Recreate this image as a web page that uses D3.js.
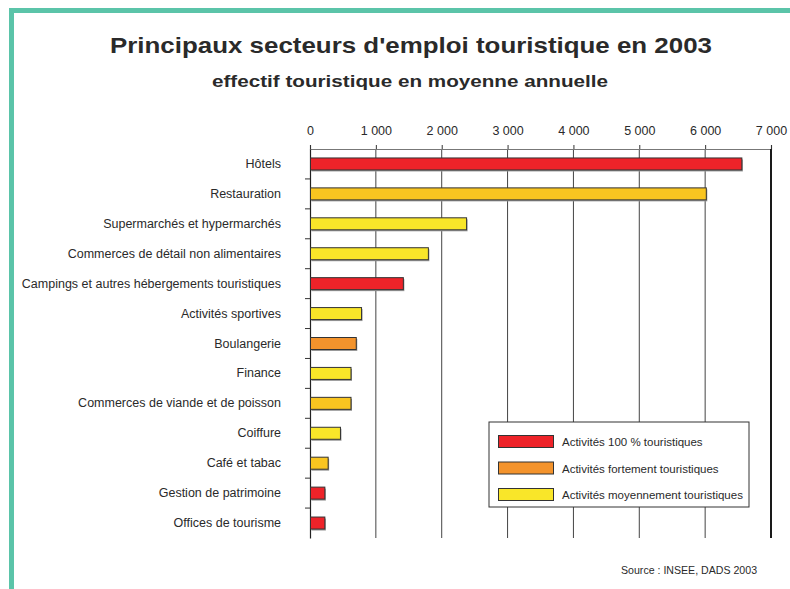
<!DOCTYPE html>
<html>
<head>
<meta charset="utf-8">
<script src="https://cdn.jsdelivr.net/npm/d3@7"></script>
<style>
  body { margin: 0; background: #fff; }
  text { font-family: "Liberation Sans", Arial, sans-serif; fill: #2a2a2a; }
</style>
</head>
<body>
<div class="chart"></div>
<script>
// data
let sectors = ["Hôtels", "Restauration", "Supermarchés et hypermarchés",
  "Commerces de détail non alimentaires", "Campings et autres hébergements touristiques",
  "Activités sportives", "Boulangerie", "Finance", "Commerces de viande et de poisson",
  "Coiffure", "Café et tabac", "Gestion de patrimoine", "Offices de tourisme"];
let effectif = [6550, 6010, 2370, 1790, 1410, 775, 695, 615, 615, 455, 268, 218, 218];
let colourKey = ["red", "amber", "yellow", "yellow", "red", "yellow", "orange", "yellow",
  "amber", "yellow", "amber", "red", "red"];
let ticks = [0, 1000, 2000, 3000, 4000, 5000, 6000, 7000];
let legendLabels = ["Activités 100 % touristiques", "Activités fortement touristiques",
  "Activités moyennement touristiques"];
let legendKeys = ["red", "orange", "yellow"];

let palette = { red: "#ee2329", amber: "#f9c520", orange: "#f3932c", yellow: "#f9e629" };

let svgWidth = 790, svgHeight = 589;
let margin = { top: 149, left: 310, right: 19, bottom: 51 };
let width = svgWidth - margin.left - margin.right;
let height = svgHeight - margin.top - margin.bottom;

let svg = d3.select(".chart").append("svg")
  .attr("width", svgWidth).attr("height", svgHeight);

// teal frame on top and left
svg.append("rect").attr("x", 9).attr("y", 8).attr("width", svgWidth - 9).attr("height", 5).attr("fill", "#5bc4a9");
svg.append("rect").attr("x", 9).attr("y", 8).attr("width", 5).attr("height", svgHeight - 8).attr("fill", "#5bc4a9");

svg.append("text").attr("x", 110).attr("y", 53)
  .attr("font-size", "22px").attr("font-weight", "bold")
  .attr("textLength", 602).attr("lengthAdjust", "spacingAndGlyphs")
  .text("Principaux secteurs d'emploi touristique en 2003");
svg.append("text").attr("x", 212).attr("y", 87)
  .attr("font-size", "17px").attr("font-weight", "bold")
  .attr("textLength", 396).attr("lengthAdjust", "spacingAndGlyphs")
  .text("effectif touristique en moyenne annuelle");

let chartGroup = svg.append("g").attr("transform", `translate(${margin.left}, ${margin.top})`);

let x = d3.scaleLinear().domain([0, 7000]).range([0, width]);
let y = d3.scaleBand().domain(sectors).range([0, height]);

// vertical grid
chartGroup.selectAll(".grid").data(ticks.slice(1, -1)).enter().append("line")
  .attr("x1", d => x(d)).attr("x2", d => x(d))
  .attr("y1", 0).attr("y2", height)
  .attr("stroke", "#444").attr("stroke-width", 1);

// top axis
let topAxis = d3.axisTop(x).tickValues(ticks).tickSize(4)
  .tickFormat(d => d3.format(",")(d).replace(",", "\u00a0"));
let gTop = chartGroup.append("g").call(topAxis);
gTop.select(".domain").attr("stroke", "#777").attr("stroke-width", 1.2);
gTop.selectAll(".tick line").attr("stroke", "#333");
gTop.selectAll(".tick text").attr("font-size", "12.5px").attr("y", -14)
  .attr("font-family", "Liberation Sans, Arial, sans-serif").attr("fill", "#2a2a2a");

// right border
chartGroup.append("line").attr("x1", width).attr("x2", width).attr("y1", 0).attr("y2", height)
  .attr("stroke", "#1a1a1a").attr("stroke-width", 2);

// left axis
let leftAxis = d3.axisLeft(y).tickSize(0).tickPadding(29);
let gLeft = chartGroup.append("g").call(leftAxis);
gLeft.select(".domain").attr("stroke", "#222").attr("stroke-width", 1.2);
gLeft.selectAll(".tick text").attr("font-size", "12.5px")
  .attr("font-family", "Liberation Sans, Arial, sans-serif").attr("fill", "#2a2a2a");
chartGroup.selectAll(".sep").data(sectors.slice(1)).enter().append("line")
  .attr("x1", -5).attr("x2", 0)
  .attr("y1", d => y(d)).attr("y2", d => y(d))
  .attr("stroke", "#333");

// bars with a soft shadow
let barH = 12;
let rows = sectors.map((s, i) => ({ s, v: effectif[i], c: palette[colourKey[i]] }));
chartGroup.selectAll(".shadow").data(rows).enter().append("rect")
  .attr("x", 1.5).attr("y", d => y(d.s) + y.bandwidth() / 2 - barH / 2 + 1.5)
  .attr("width", d => x(d.v)).attr("height", barH)
  .attr("fill", "#999");
chartGroup.selectAll(".bar").data(rows).enter().append("rect")
  .attr("x", 0.5).attr("y", d => y(d.s) + y.bandwidth() / 2 - barH / 2)
  .attr("width", d => x(d.v)).attr("height", barH)
  .attr("fill", d => d.c).attr("stroke", "#333").attr("stroke-width", 1);

// legend
let lg = svg.append("g").attr("transform", "translate(489, 422)");
lg.append("rect").attr("width", 260).attr("height", 85)
  .attr("fill", "#fff").attr("stroke", "#333").attr("stroke-width", 1);
legendLabels.forEach((lab, i) => {
  lg.append("rect").attr("x", 9.5).attr("y", 13.5 + i * 26.5).attr("width", 55).attr("height", 12)
    .attr("fill", palette[legendKeys[i]]).attr("stroke", "#333");
  lg.append("text").attr("x", 73).attr("y", 24 + i * 26.5)
    .attr("font-size", "11.5px").text(lab);
});

svg.append("text").attr("x", 621).attr("y", 574).attr("font-size", "10.6px")
  .text("Source : INSEE, DADS 2003");
</script>
</body>
</html>
